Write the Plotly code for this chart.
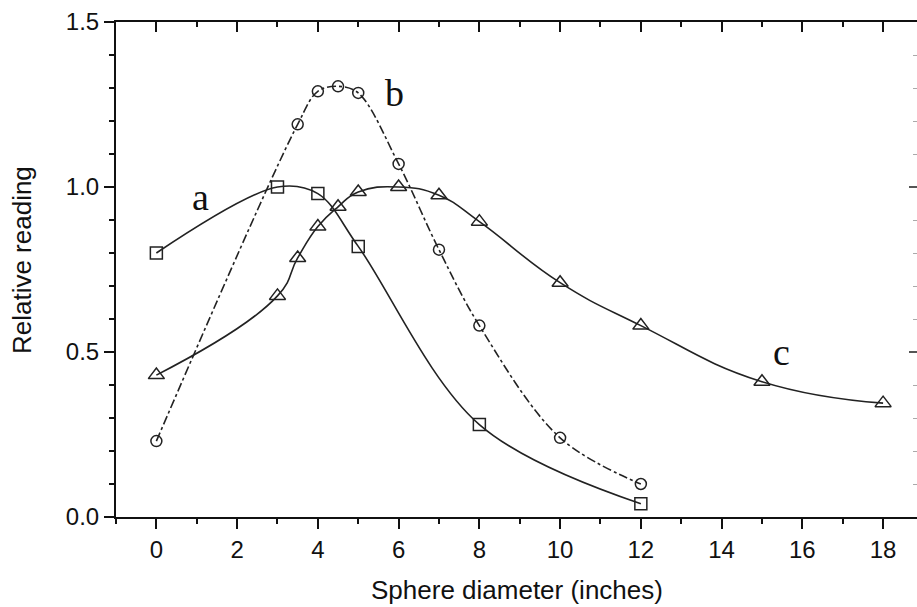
import plotly.graph_objects as go

# Curve a (squares, solid)
a_x = [0, 3, 4, 5, 8, 12]
a_y = [0.80, 1.00, 0.98, 0.82, 0.28, 0.04]

# Curve b (circles, dash-dot)
b_x = [0, 3.5, 4, 4.5, 5, 6, 7, 8, 10, 12]
b_y = [0.23, 1.19, 1.29, 1.305, 1.285, 1.07, 0.81, 0.58, 0.24, 0.10]

# Curve c (triangles, solid)
c_x = [0, 3, 3.5, 4, 4.5, 5, 6, 7, 8, 10, 12, 15, 18]
c_y = [0.43, 0.67, 0.785, 0.88, 0.94, 0.985, 1.00, 0.975, 0.895, 0.71, 0.58, 0.41, 0.345]

labels = ["a", "b", "c"]
label_x = [1.09, 5.9, 15.48]
label_y = [0.97, 1.285, 0.50]

fig = go.Figure()

def add_curve(x, y, symbol, dash, size, smoothing):
    fig.add_trace(go.Scatter(
        x=x, y=y, mode="lines+markers",
        line=dict(color="#222", width=1.6, dash=dash, shape="spline", smoothing=smoothing),
        marker=dict(symbol=symbol, size=size, color="#222",
                    line=dict(color="#222", width=1.5)),
        showlegend=False, cliponaxis=False))

add_curve(a_x, a_y, "square-open", "solid", 12, 1.0)
add_curve(b_x, b_y, "circle-open", "dashdot", 11, 1.0)
add_curve(c_x, c_y, "triangle-up-open", "solid", 14, 1.3)

# invisible trace on mirrored axes
fig.add_trace(go.Scatter(x=[0], y=[0], xaxis="x2", yaxis="y2", mode="markers",
                         marker=dict(opacity=0), showlegend=False, hoverinfo="skip"))

XR = [-1, 18.84]
YR = [0, 1.5]
tickfont = dict(family="Liberation Sans, Arial", size=24, color="#111")

fig.update_layout(
    width=917, height=607,
    margin=dict(l=116, r=0, t=22, b=90),
    paper_bgcolor="white", plot_bgcolor="white",
    xaxis=dict(range=XR, showline=True, linecolor="#111", linewidth=2,
               ticks="outside", ticklen=10, tickwidth=2, tickcolor="#111",
               tick0=0, dtick=2, showgrid=False, zeroline=False,
               tickfont=tickfont, ticklabelstandoff=0,
               minor=dict(ticks="outside", ticklen=5, tickwidth=2, dtick=1, tick0=0,
                          tickcolor="#111", showgrid=False)),
    yaxis=dict(range=YR, showline=True, linecolor="#111", linewidth=2,
               ticks="outside", ticklen=10, tickwidth=2, tickcolor="#111",
               tick0=0, dtick=0.5, tickformat=".1f", showgrid=False, zeroline=False,
               tickfont=tickfont,
               minor=dict(ticks="outside", ticklen=5, tickwidth=2, dtick=0.1, tick0=0,
                          tickcolor="#111", showgrid=False)),
    xaxis2=dict(range=XR, overlaying="x", side="top", anchor="y", showline=True,
                linecolor="#111", linewidth=2, ticks="inside", ticklen=10, tickwidth=2,
                tickcolor="#111", tick0=0, dtick=2, showticklabels=False,
                showgrid=False, zeroline=False,
                minor=dict(ticks="inside", ticklen=5, tickwidth=2, dtick=1, tick0=0,
                           tickcolor="#111", showgrid=False)),
    yaxis2=dict(range=YR, overlaying="y", side="right", anchor="x", showline=True,
                linecolor="#111", linewidth=2, ticks="inside", ticklen=8, tickwidth=2,
                tickcolor="#555", tick0=0, dtick=0.5, showticklabels=False,
                showgrid=False, zeroline=False,
                minor=dict(ticks="inside", ticklen=4, tickwidth=1, dtick=0.1, tick0=0,
                           tickcolor="#aaa", showgrid=False)),
)

for t, lx, ly in zip(labels, label_x, label_y):
    fig.add_annotation(x=lx, y=ly, text=t, showarrow=False, xref="x", yref="y",
                       font=dict(family="Liberation Serif, Times New Roman", size=38, color="#111"),
                       xanchor="center", yanchor="middle")

fig.add_annotation(text="Relative reading", xref="paper", yref="paper",
                   x=-0.1174, y=0.519, textangle=-90, showarrow=False,
                   xanchor="center", yanchor="middle",
                   font=dict(family="Liberation Sans, Arial", size=26, color="#111"))
fig.add_annotation(text="Sphere diameter (inches)", xref="paper", yref="paper",
                   x=0.5006, y=-0.1475, showarrow=False,
                   xanchor="center", yanchor="middle",
                   font=dict(family="Liberation Sans, Arial", size=26, color="#111"))

fig.write_html("out.html")
